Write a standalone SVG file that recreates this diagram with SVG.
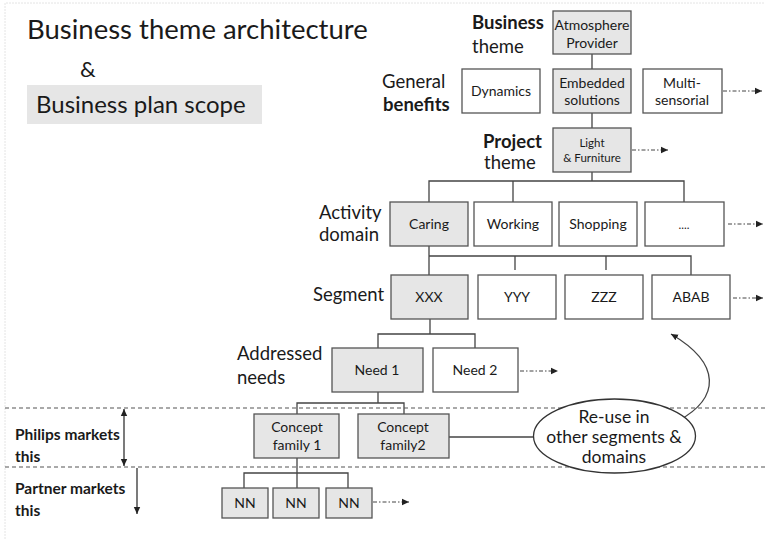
<svg xmlns="http://www.w3.org/2000/svg" width="765" height="539" viewBox="0 0 765 539">
<defs>
<style>
text{font-family:Lato,"Open Sans","Liberation Sans",sans-serif;fill:#1a1a1a}
.box{stroke:#555;stroke-width:1.3}
.g{fill:#e6e6e6}
.w{fill:#fff}
.bt{font-size:14px;text-anchor:middle}
.sm{font-size:11.5px}
.el{font-size:17.5px}
.lbl{font-size:18.5px}
.b{font-weight:bold}
.c{fill:none;stroke:#444;stroke-width:1.3}
.da{fill:none;stroke:#444;stroke-width:1;stroke-dasharray:4 2 1.5 2}
.sep{fill:none;stroke:#555;stroke-width:1.2;stroke-dasharray:4 3}
</style>
<marker id="ah" markerWidth="8" markerHeight="8" refX="7" refY="4" orient="auto" markerUnits="userSpaceOnUse">
<path d="M0,0.8 L7,4 L0,7.2 Z" fill="#222"/>
</marker>
<marker id="ahs" markerWidth="8" markerHeight="8" refX="1" refY="4" orient="auto" markerUnits="userSpaceOnUse">
<path d="M8,0.8 L1,4 L8,7.2 Z" fill="#222"/>
</marker>
</defs>
<rect x="0" y="0" width="765" height="539" fill="#fff"/>
<path d="M5,539 V3 H765" fill="none" stroke="#e4e4e4" stroke-width="1" stroke-dasharray="2 1"/>

<g id="title">
<text x="27" y="39" font-size="27.5">Business theme architecture</text>
<text x="80" y="77" font-size="22">&amp;</text>
<rect x="27" y="85" width="235" height="39" fill="#e6e6e6"/>
<text x="36" y="113" font-size="24">Business plan scope</text>
</g>

<g id="level-labels">
<text x="472" y="29" class="lbl b">Business</text>
<text x="472" y="53" class="lbl">theme</text>
<text x="382" y="88" class="lbl">General</text>
<text x="383" y="111" class="lbl b">benefits</text>
<text x="483" y="148" class="lbl b">Project</text>
<text x="484" y="169" class="lbl">theme</text>
<text x="319" y="219" class="lbl">Activity</text>
<text x="319" y="241" class="lbl">domain</text>
<text x="313" y="301" class="lbl">Segment</text>
<text x="237" y="360" class="lbl">Addressed</text>
<text x="237" y="384" class="lbl">needs</text>
<text x="15" y="440" font-size="15.5" class="b">Philips markets</text>
<text x="15" y="462" font-size="15.5" class="b">this</text>
<text x="15" y="494" font-size="15.5" class="b">Partner markets</text>
<text x="15" y="516" font-size="15.5" class="b">this</text>
</g>

<g id="connectors">
<path class="c" d="M592,54 V69 M592,113 V128 M592,172 V181 M429,202 V181 H684 V202 M513,181 V202"/>
<path class="c" d="M429,246 V275 M429,256 H691 V275 M515,256 V270 M606,256 V270"/>
<path class="c" d="M430,319 V334 M378,348 V334 H475 V348"/>
<path class="c" d="M378,392 V403 M297,414 V403 H404 V414"/>
<path class="c" d="M297,458 V488 M244,488 V473 H348 V488"/>
<path class="c" d="M449,437 H533"/>
<path class="da" d="M723,91 H762" marker-end="url(#ah)"/>
<path class="da" d="M632,150 H668" marker-end="url(#ah)"/>
<path class="da" d="M728,224 H763" marker-end="url(#ah)"/>
<path class="da" d="M733,298 H763" marker-end="url(#ah)"/>
<path class="da" d="M520,371 H558" marker-end="url(#ah)"/>
<path class="da" d="M373,502 H409" marker-end="url(#ah)"/>
<path class="c" d="M678,421 C720,398 722,364 671,334" marker-end="url(#ah)"/>
<path d="M124,409 V466" stroke="#222" stroke-width="1.2" fill="none" marker-start="url(#ahs)" marker-end="url(#ah)"/>
<path d="M137,468 V514" stroke="#222" stroke-width="1.2" fill="none" marker-end="url(#ah)"/>
<path class="sep" d="M5,408 H765 M5,467 H765"/>
</g>

<g id="atmosphere-provider"><rect class="box g" x="553" y="11" width="78" height="43"/><text class="bt" x="592" y="30">Atmosphere</text><text class="bt" x="592" y="48">Provider</text></g>
<g id="dynamics"><rect class="box w" x="462" y="69" width="78" height="44"/><text class="bt" x="501" y="96">Dynamics</text></g>
<g id="embedded-solutions"><rect class="box g" x="553" y="69" width="78" height="44"/><text class="bt" x="592" y="88">Embedded</text><text class="bt" x="592" y="105">solutions</text></g>
<g id="multi-sensorial"><rect class="box w" x="643" y="69" width="79" height="44"/><text class="bt" x="682" y="88">Multi-</text><text class="bt" x="682" y="105">sensorial</text></g>
<g id="light-furniture"><rect class="box g" x="553" y="128" width="78" height="44"/><text class="bt sm" x="592" y="147">Light</text><text class="bt sm" x="592" y="162">&amp; Furniture</text></g>

<g id="caring"><rect class="box g" x="390" y="202" width="78" height="44"/><text class="bt" x="429" y="229">Caring</text></g>
<g id="working"><rect class="box w" x="474" y="202" width="78" height="44"/><text class="bt" x="513" y="229">Working</text></g>
<g id="shopping"><rect class="box w" x="559" y="202" width="78" height="44"/><text class="bt" x="598" y="229">Shopping</text></g>
<g id="more-domains"><rect class="box w" x="645" y="202" width="79" height="44"/><text class="bt sm" x="684" y="229">....</text></g>

<g id="xxx"><rect class="box g" x="391" y="275" width="77" height="44"/><text class="bt" x="429" y="302">XXX</text></g>
<g id="yyy"><rect class="box w" x="478" y="275" width="78" height="44"/><text class="bt" x="517" y="302">YYY</text></g>
<g id="zzz"><rect class="box w" x="565" y="275" width="78" height="44"/><text class="bt" x="604" y="302">ZZZ</text></g>
<g id="abab"><rect class="box w" x="652" y="275" width="78" height="44"/><text class="bt" x="691" y="302">ABAB</text></g>

<g id="need-1"><rect class="box g" x="332" y="348" width="91" height="44"/><text class="bt" x="377" y="375">Need 1</text></g>
<g id="need-2"><rect class="box w" x="433" y="348" width="85" height="44"/><text class="bt" x="475" y="375">Need 2</text></g>

<g id="concept-family-1"><rect class="box g" x="254" y="414" width="85" height="44"/><text class="bt" x="297" y="432">Concept</text><text class="bt" x="297" y="450">family  1</text></g>
<g id="concept-family-2"><rect class="box g" x="358" y="414" width="91" height="44"/><text class="bt" x="403" y="432">Concept</text><text class="bt" x="403" y="450">family2</text></g>

<g id="nn-1"><rect class="box g" x="222" y="488" width="46" height="30"/><text class="bt" x="245" y="508">NN</text></g>
<g id="nn-2"><rect class="box g" x="273" y="488" width="46" height="30"/><text class="bt" x="296" y="508">NN</text></g>
<g id="nn-3"><rect class="box g" x="326" y="488" width="46" height="30"/><text class="bt" x="349" y="508">NN</text></g>

<g id="reuse"><ellipse cx="614.5" cy="436" rx="81" ry="37" fill="#fff" stroke="#333" stroke-width="1.3"/><text class="bt el" x="614" y="423">Re-use in</text><text class="bt el" x="614" y="443">other segments &amp;</text><text class="bt el" x="614" y="463">domains</text></g>
</svg>
